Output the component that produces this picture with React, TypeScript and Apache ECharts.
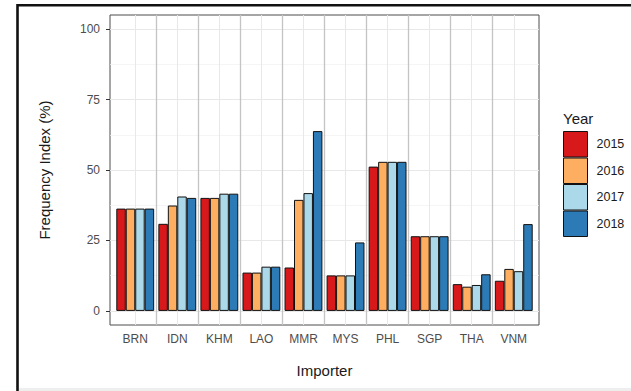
import React, { useEffect, useRef } from "react";
import * as echarts from "echarts";

// Importers (ASEAN member states) shown along the x axis
const categories = ["BRN", "IDN", "KHM", "LAO", "MMR", "MYS", "PHL", "SGP", "THA", "VNM"];
const years = ["2015", "2016", "2017", "2018"];

// Frequency index (%) per importer and year
const v2015 = [36.3, 30.9, 40.1, 13.6, 15.4, 12.6, 51.2, 26.5, 9.5, 10.7];
const v2016 = [36.3, 37.4, 40.1, 13.6, 39.4, 12.6, 52.9, 26.5, 8.6, 14.9];
const v2017 = [36.3, 40.6, 41.6, 15.7, 41.8, 12.6, 52.9, 26.5, 9.2, 14.1];
const v2018 = [36.3, 40.1, 41.6, 15.7, 63.8, 24.3, 52.9, 26.5, 13.0, 30.8];
const seriesValues = [v2015, v2016, v2017, v2018];

const yTicks = [0, 25, 50, 75, 100];
const yMinor = [12.5, 37.5, 62.5, 87.5];

const palette = ["#d7191c", "#fdae61", "#abd9e9", "#2c7bb6"];
const FONT = "'Liberation Sans', Arial, sans-serif";

// panel geometry: 10 categories plus 0.6 of padding on each side
const PANEL_LEFT = 110;
const PANEL_TOP = 15;
const PANEL_WIDTH = 429;
const PANEL_HEIGHT = 310;
const X_MIN = 0.4;
const X_MAX = 10.6;
const Y_MIN = -5;
const Y_MAX = 105;

export default function App() {
  const ref = useRef<HTMLDivElement>(null);

  useEffect(() => {
    if (!ref.current) return;
    const chart = echarts.init(ref.current, null, { renderer: "svg" });

    const positions = categories.map((_, i) => i + 1);
    const boundaries = positions.slice(0, -1).map((p) => p + 0.5);
    const pxPerUnit = PANEL_WIDTH / (X_MAX - X_MIN);
    // the bar grid covers the categories only (0.5 padding each side)
    const inset = (1 - X_MIN - 0.5) * pxPerUnit;

    // gridlines sit underneath the bars
    const lineOpts = { symbol: ["none", "none"], silent: true, label: { show: false }, z: 1 };

    const gridSeries: any[] = [
      {
        type: "line",
        xAxisIndex: 0,
        yAxisIndex: 0,
        data: [],
        z: 1,
        silent: true,
        markLine: {
          ...lineOpts,
          lineStyle: { color: "#f0f0f0", width: 0.7, type: "solid" },
          data: yMinor.map((v) => ({ yAxis: v })),
        },
      },
      {
        type: "line",
        xAxisIndex: 0,
        yAxisIndex: 0,
        data: [],
        z: 1,
        silent: true,
        markLine: {
          ...lineOpts,
          lineStyle: { color: "#e8e8e8", width: 1, type: "solid" },
          data: [
            ...yTicks.map((v) => ({ yAxis: v })),
            ...positions.map((v) => ({ xAxis: v })),
          ],
        },
      },
      {
        type: "line",
        xAxisIndex: 0,
        yAxisIndex: 0,
        data: [],
        z: 1,
        silent: true,
        markLine: {
          ...lineOpts,
          lineStyle: { color: "#c4c4c4", width: 1.3, type: "solid" },
          data: boundaries.map((v) => ({ xAxis: v })),
        },
      },
    ];

    const barSeries = years.map((y, si) => ({
      name: y,
      type: "bar",
      xAxisIndex: 1,
      yAxisIndex: 1,
      z: 3,
      barGap: "0%",
      barCategoryGap: "10%",
      data: seriesValues[si],
      itemStyle: { color: palette[si], borderColor: "#111", borderWidth: 1 },
    }));

    const hidden = {
      axisLine: { show: false },
      axisTick: { show: false },
      axisLabel: { show: false },
      splitLine: { show: false },
    };

    chart.setOption({
      animation: false,
      backgroundColor: "#ffffff",
      textStyle: { fontFamily: FONT },
      grid: [
        {
          left: PANEL_LEFT,
          top: PANEL_TOP,
          width: PANEL_WIDTH,
          height: PANEL_HEIGHT,
          show: true,
          backgroundColor: "#ffffff",
          borderColor: "#4d4d4d",
          borderWidth: 1,
        },
        {
          left: PANEL_LEFT + inset,
          top: PANEL_TOP,
          width: PANEL_WIDTH - 2 * inset,
          height: PANEL_HEIGHT,
        },
      ],
      xAxis: [
        {
          type: "value",
          gridIndex: 0,
          min: X_MIN,
          max: X_MAX,
          name: "Importer",
          nameLocation: "middle",
          nameGap: 38,
          nameTextStyle: { fontSize: 15, color: "#1a1a1a", fontFamily: FONT },
          axisLine: { show: false },
          splitLine: { show: false },
          axisTick: {
            show: true,
            length: 4,
            lineStyle: { color: "#333" },
            customValues: positions,
          },
          axisLabel: {
            customValues: positions,
            margin: 8,
            fontSize: 12,
            color: "#4d4d4d",
            fontFamily: FONT,
            formatter: (v: number) => categories[Math.round(v) - 1] ?? "",
          },
        },
        {
          type: "category",
          gridIndex: 1,
          data: categories,
          boundaryGap: true,
          ...hidden,
        },
      ],
      yAxis: [
        {
          type: "value",
          gridIndex: 0,
          min: Y_MIN,
          max: Y_MAX,
          name: "Frequency Index (%)",
          nameLocation: "middle",
          nameGap: 58,
          nameTextStyle: { fontSize: 15, color: "#1a1a1a", fontFamily: FONT },
          axisLine: { show: false },
          splitLine: { show: false },
          axisTick: {
            show: true,
            length: 4,
            lineStyle: { color: "#333" },
            customValues: yTicks,
          },
          axisLabel: {
            customValues: yTicks,
            margin: 10,
            fontSize: 12,
            color: "#4d4d4d",
            fontFamily: FONT,
          },
        },
        {
          type: "value",
          gridIndex: 1,
          min: Y_MIN,
          max: Y_MAX,
          ...hidden,
        },
      ],
      legend: {
        data: years,
        orient: "vertical",
        left: 563,
        top: 131,
        padding: 0,
        itemGap: 0,
        itemWidth: 24,
        itemHeight: 25.5,
        icon: "rect",
        itemStyle: { borderColor: "#111", borderWidth: 1 },
        textStyle: { fontSize: 12.5, color: "#1a1a1a", fontFamily: FONT, padding: [0, 0, 0, 4] },
        selectedMode: false,
      },
      graphic: [
        {
          type: "text",
          x: 563,
          y: 118,
          style: {
            text: "Year",
            font: `15px ${FONT}`,
            fill: "#1a1a1a",
            verticalAlign: "middle",
          },
        },
        {
          type: "polyline",
          shape: { points: [[17.5, 391], [17.5, 5.2], [631, 5.2]] },
          style: { stroke: "#111", lineWidth: 2.6, fill: "none" },
        },
        {
          type: "rect",
          shape: { x: 19, y: 388, width: 612, height: 3 },
          style: { fill: "#eeeeee" },
        },
      ],
      series: [...gridSeries, ...barSeries],
    });

    return () => chart.dispose();
  }, []);

  return (
    <div
      ref={ref}
      style={{ position: "fixed", left: 0, top: 0, width: 631, height: 391 }}
    />
  );
}
